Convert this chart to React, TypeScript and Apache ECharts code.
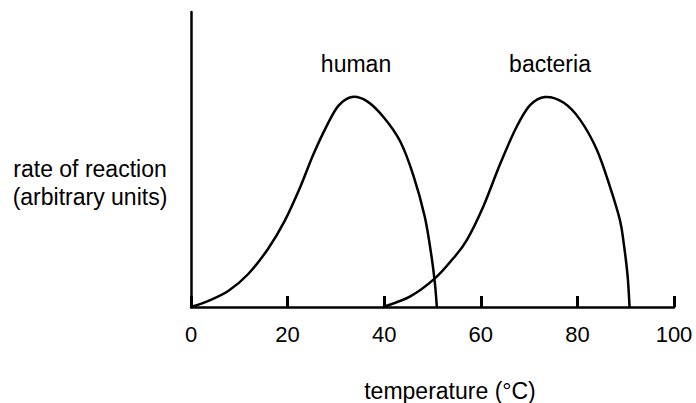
import React, { useEffect, useRef } from "react";
import * as echarts from "echarts";

const xTicks = [0, 20, 40, 60, 80, 100];
const humanCurve: [number, number][] = [
  [0, 0], [3.5, 2.0], [7.7, 5.4], [11.8, 11.1], [15.9, 19.6], [19.4, 29.2],
  [22.6, 40.6], [25.3, 51.6], [28.1, 61.4], [30.5, 68.2], [33.3, 71.2],
  [36.4, 69.8], [39.8, 64.5], [43.3, 56.2], [46.0, 44.8], [48.4, 30.6],
  [49.8, 17.1], [50.5, 8.0], [50.9, 0],
];
const bacteriaCurve: [number, number][] = [
  [39.8, 0], [45.3, 3.5], [50.5, 9.7], [54.3, 16.5], [57.1, 22.7], [60.5, 34.0],
  [64.0, 48.5], [67.4, 61.0], [70.2, 68.4], [73.3, 71.2], [77.1, 69.3],
  [80.5, 63.6], [84.0, 53.4], [86.7, 41.0], [88.8, 29.5], [89.6, 21.5],
  [90.4, 10.5], [90.8, 0],
];
const curveLabels = ["human", "bacteria"];
const yTitle = "rate of reaction\n(arbitrary units)";
const xTitle = "temperature (°C)";

const FONT = '"Liberation Sans", Arial, sans-serif';

function curveSeries(name: string, curve: [number, number][]) {
  return {
    type: "custom",
    name,
    coordinateSystem: "cartesian2d",
    data: [curve[0]],
    clip: false,
    renderItem: (_params: any, api: any) => {
      const p = curve.map((d) => api.coord(d) as number[]);
      const n = p.length;
      let d = `M${p[0][0]},${p[0][1]}`;
      for (let i = 0; i < n - 1; i++) {
        const p0 = p[Math.max(i - 1, 0)];
        const p1 = p[i];
        const p2 = p[i + 1];
        const p3 = p[Math.min(i + 2, n - 1)];
        const c1x = p1[0] + (p2[0] - p0[0]) / 6;
        const c1y = p1[1] + (p2[1] - p0[1]) / 6;
        const c2x = p2[0] - (p3[0] - p1[0]) / 6;
        const c2y = p2[1] - (p3[1] - p1[1]) / 6;
        d += ` C${c1x},${c1y} ${c2x},${c2y} ${p2[0]},${p2[1]}`;
      }
      return {
        type: "path",
        shape: { pathData: d },
        style: { fill: "none", stroke: "#000", lineWidth: 2.5 },
      };
    },
  };
}

export default function App() {
  const ref = useRef<HTMLDivElement>(null);
  useEffect(() => {
    if (!ref.current) return;
    const chart = echarts.init(ref.current, null, { renderer: "svg" });
    chart.setOption({
      animation: false,
      backgroundColor: "#fff",
      grid: { left: 191, right: 22, top: 12, bottom: 96 },
      xAxis: {
        type: "value",
        min: xTicks[0],
        max: xTicks[xTicks.length - 1],
        interval: 20,
        axisLine: { lineStyle: { color: "#000", width: 2.5 } },
        axisTick: { inside: true, length: 11, lineStyle: { color: "#000", width: 3 } },
        axisLabel: { color: "#000", fontSize: 22, fontFamily: FONT, margin: 16 },
        splitLine: { show: false },
      },
      yAxis: {
        type: "value",
        min: 0,
        max: 100,
        axisLine: { show: true, lineStyle: { color: "#000", width: 2.5 } },
        axisTick: { show: false },
        axisLabel: { show: false },
        splitLine: { show: false },
      },
      series: [
        curveSeries(curveLabels[0], humanCurve),
        curveSeries(curveLabels[1], bacteriaCurve),
      ],
      graphic: [
        { type: "text", x: 356, y: 64, style: { text: curveLabels[0], fill: "#000", font: `23px ${FONT}`, textAlign: "center", textVerticalAlign: "middle" } },
        { type: "text", x: 550, y: 64, style: { text: curveLabels[1], fill: "#000", font: `23px ${FONT}`, textAlign: "center", textVerticalAlign: "middle" } },
        { type: "text", x: 90, y: 183, style: { text: yTitle, fill: "#000", font: `23px ${FONT}`, lineHeight: 28, textAlign: "center", textVerticalAlign: "middle" } },
        { type: "text", x: 450, y: 391, style: { text: xTitle, fill: "#000", font: `23px ${FONT}`, textAlign: "center", textVerticalAlign: "middle" } },
      ],
    });
    return () => chart.dispose();
  }, []);
  return <div ref={ref} style={{ width: 696, height: 403, position: "absolute", left: 0, top: 0 }} />;
}
